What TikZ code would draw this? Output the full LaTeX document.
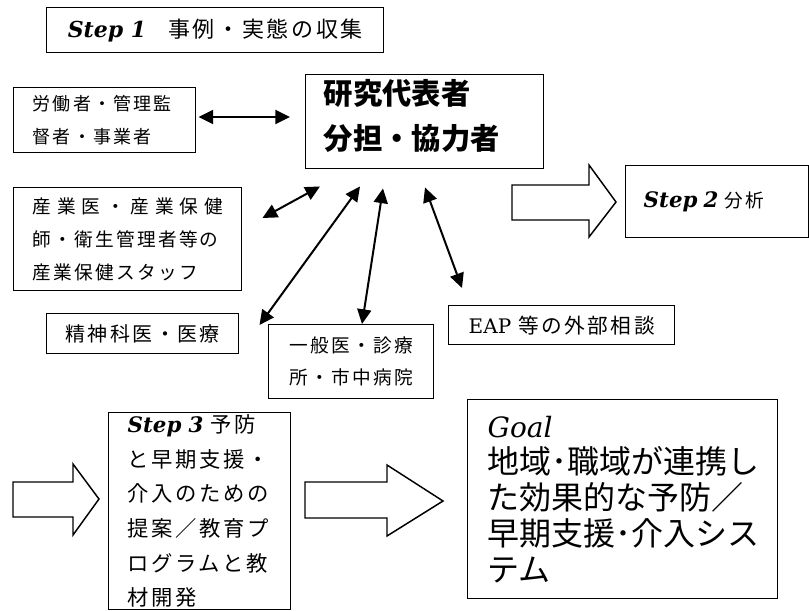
\documentclass[tikz,border=0pt]{standalone}
\usepackage{fontspec}
\setmainfont{DejaVu Serif}
\newfontfamily\jpm[LetterSpace=12]{Noto Sans CJK JP}
\newfontfamily\jpg{Noto Sans CJK JP}
\usetikzlibrary{arrows.meta,calc}
\newcommand\stepl[1]{{\rmfamily\bfseries\itshape Step #1}}
\begin{document}
\begin{tikzpicture}[x=0.75pt,y=-0.75pt,
  box/.style={draw, line width=1.1pt, inner sep=0pt, anchor=north west, align=left},
  lbox/.style={box, inner xsep=#1*0.75pt},
  dbl/.style={{Triangle[length=11pt,width=10.5pt]}-{Triangle[length=11pt,width=10.5pt]}, line width=1.5pt},
  hollow/.style={draw, line width=1.1pt, fill=white, line join=miter}]
\useasboundingbox (0,0) rectangle (809,610);

% nodes
\node[box, minimum width=337*0.75pt, minimum height=45*0.75pt, font=\fontsize{16.5}{20}\selectfont\jpm] (s1) at (46,7)
  {\stepl{1}\quad 事例・実態の収集};
\node[lbox=19, text width=144*0.75pt, minimum height=65*0.75pt, font=\fontsize{13.5}{24.75}\selectfont\jpm] (w) at (13,87)
  {労働者・管理監\\督者・事業者};
\node[lbox=18, text width=202*0.75pt, minimum height=94*0.75pt, font=\fontsize{22}{34}\selectfont\jpg\bfseries] (m) at (305,74)
  {研究代表者\\分担・協力者\\[-23.5pt]\mbox{}};
\node[lbox=19, text width=190*0.75pt, minimum height=103*0.75pt, font=\fontsize{14}{24.75}\selectfont\jpm] (o) at (13,187)
  {\makebox[\linewidth][s]{産\hfil 業\hfil 医\hfil ・\hfil 産\hfil 業\hfil 保\hfil 健}\\師・衛生管理者等の\\産業保健スタッフ};
\node[box, minimum width=192*0.75pt, minimum height=40*0.75pt, font=\fontsize{15}{20}\selectfont\jpm] (p) at (46,313)
  {精神科医・医療};
\node[box, minimum width=165*0.75pt, minimum height=74*0.75pt, font=\fontsize{14}{24}\selectfont\jpm] (g) at (268,324)
  {一般医・診療\\所・市中病院};
\node[box, minimum width=226*0.75pt, minimum height=39*0.75pt, font=\fontsize{15.5}{20}\selectfont\jpm] (e) at (448,305)
  {{\rmfamily\fontsize{15}{20}\selectfont EAP}\ 等の外部相談};
\node[lbox=18, text width=147*0.75pt, minimum height=72*0.75pt, font=\fontsize{14}{20}\selectfont\jpm] (s2) at (625,165)
  {{\fontsize{16}{20}\selectfont\stepl{2}}\ 分析\\[-2pt]};
\node[lbox=19, text width=144*0.75pt, minimum height=197*0.75pt, font=\fontsize{16}{26}\selectfont\jpm] (s3) at (108,412)
  {\stepl{3}\ 予防\\と早期支援・\\介入のための\\提案／教育プ\\ログラムと教\\材開発};
\node[lbox=20, text width=270*0.75pt, minimum height=199*0.75pt, font=\fontsize{24}{27}\selectfont\jpg] (goal) at (467,399)
  {{\rmfamily\itshape\fontsize{21}{25}\selectfont Goal}\\地域･職域が連携し\\た効果的な予防／\\早期支援･介入シス\\テム};

% double arrows
\draw[dbl] ($(w.north east)+(2,30)$) -- ($(m.north west)+(-15,43)$);
\draw[dbl] ($(o.north east)+(20,31)$) -- ($(m.south west)+(15,17)$);
\draw[dbl] ($(p.north east)+(20,12)$) -- ($(m.south west)+(55,17)$);
\draw[dbl] ($(g.north west)+(94,0)$) -- ($(m.south west)+(78,19)$);
\draw[dbl] ($(m.south west)+(120,18)$) -- ($(e.north west)+(14,-17)$);

% hollow block arrows
\draw[hollow] (512,185) -- (589,185) -- (589,165) -- (616,202) -- (589,237) -- (589,220) -- (512,220) -- cycle;
\draw[hollow] (13,482) -- (73,482) -- (73,464) -- (99,499) -- (73,535) -- (73,517) -- (13,517) -- cycle;
\draw[hollow] (305,482) -- (387,482) -- (387,465) -- (443,501) -- (387,536) -- (387,518) -- (305,518) -- cycle;
\end{tikzpicture}
\end{document}
